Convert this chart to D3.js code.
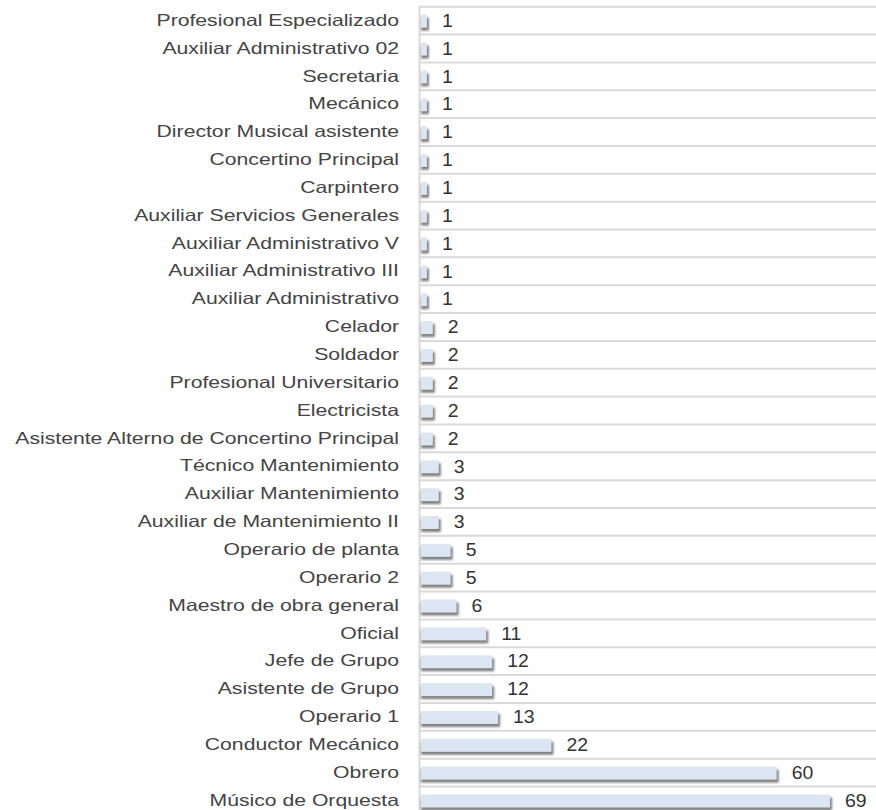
<!DOCTYPE html>
<html><head><meta charset="utf-8">
<script src="https://cdn.jsdelivr.net/npm/d3@7"></script>
<style>body{margin:0;background:#fff;} svg{display:block;}</style>
</head><body>
<svg id="chart" width="876" height="810"></svg>
<script>
const categories = ["Profesional Especializado","Auxiliar Administrativo 02","Secretaria","Mecánico","Director Musical asistente","Concertino Principal","Carpintero","Auxiliar Servicios Generales","Auxiliar Administrativo V","Auxiliar Administrativo III","Auxiliar Administrativo","Celador","Soldador","Profesional Universitario","Electricista","Asistente Alterno de Concertino Principal","Técnico Mantenimiento","Auxiliar Mantenimiento","Auxiliar de Mantenimiento II","Operario de planta","Operario 2","Maestro de obra general","Oficial","Jefe de Grupo","Asistente de Grupo","Operario 1","Conductor Mecánico","Obrero","Músico de Orquesta"];
const values = [1,1,1,1,1,1,1,1,1,1,1,2,2,2,2,2,3,3,3,5,5,6,11,12,12,13,22,60,69];

const svg = d3.select("#chart");
const rowH = 27.85;
const y = d3.scaleBand().domain(categories).range([6.7, 6.7 + rowH * categories.length]).padding(0);
const x = d3.scaleLinear().domain([0, 69]).range([421, 830]);

const defs = svg.append("defs");
defs.append("filter").attr("id","blur").attr("x","-10%").attr("y","-50%").attr("width","120%").attr("height","200%")
  .append("feGaussianBlur").attr("stdDeviation", 0.8);

// gridlines
svg.append("g").selectAll("line").data(categories).join("line")
  .attr("x1", 419).attr("x2", 876)
  .attr("y1", d => y(d)).attr("y2", d => y(d))
  .attr("stroke", "#d9d9d9").attr("stroke-width", 2);
// left axis line
svg.append("line").attr("x1", 419.5).attr("x2", 419.5).attr("y1", 5.7).attr("y2", 810)
  .attr("stroke", "#d9d9d9").attr("stroke-width", 2);

const data = categories.map((c, i) => ({c, v: values[i]}));

// shadows
svg.append("g").selectAll("rect").data(data).join("rect")
  .attr("x", x(0)).attr("y", d => y(d.c) + 11)
  .attr("width", d => x(d.v) - x(0) + 2).attr("height", 13)
  .attr("fill", "#808080").attr("filter", "url(#blur)");
// bars
svg.append("g").selectAll("rect").data(data).join("rect")
  .attr("x", x(0)).attr("y", d => y(d.c) + 8)
  .attr("width", d => x(d.v) - x(0)).attr("height", 13)
  .attr("fill", "#dce6f2");

// category labels
svg.append("g").selectAll("text").data(data).join("text")
  .attr("transform", d => `translate(399,${y(d.c) + 13.5}) scale(1.3,1)`)
  .attr("text-anchor", "end").attr("dominant-baseline", "central")
  .attr("font-family", "'Liberation Sans', Arial, sans-serif").attr("font-size", 16.3)
  .attr("fill", "#444").text(d => d.c);

// value labels
svg.append("g").selectAll("text").data(data).join("text")
  .attr("transform", d => `translate(${x(d.v) + 15},${y(d.c) + 14}) scale(1.08,1)`)
  .attr("dominant-baseline", "central")
  .attr("font-family", "'Liberation Sans', Arial, sans-serif").attr("font-size", 18)
  .attr("fill", "#333").text(d => d.v);
</script>
</body></html>
